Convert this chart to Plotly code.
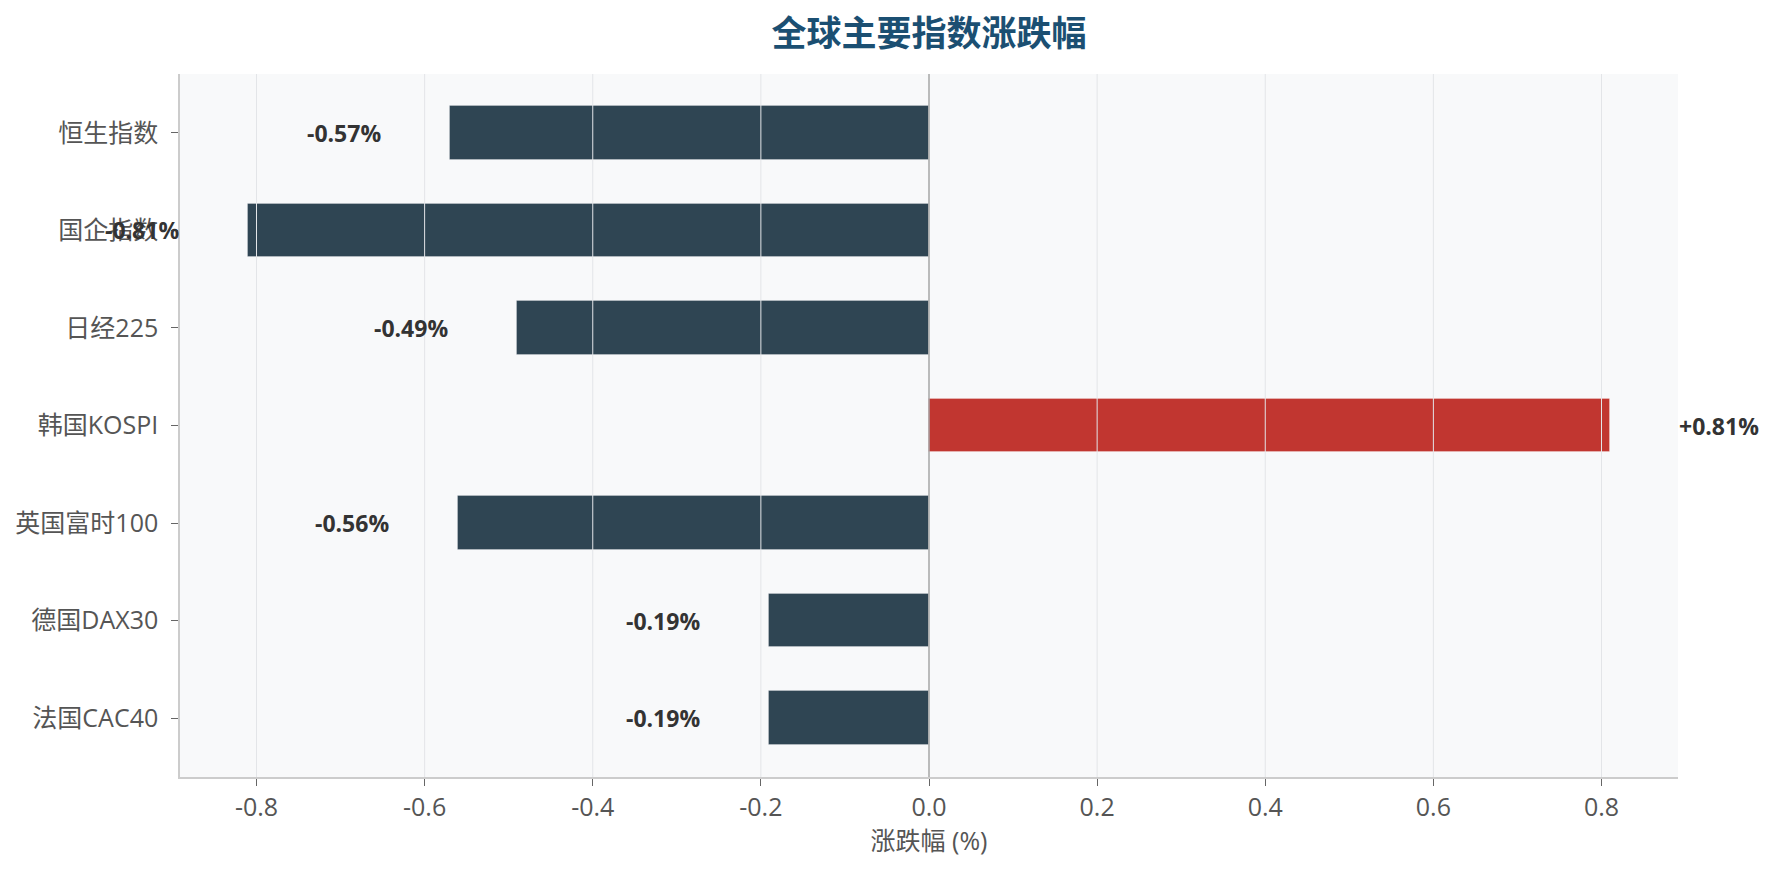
import plotly.graph_objects as go

categories = ["恒生指数", "国企指数", "日经225", "韩国KOSPI", "英国富时100", "德国DAX30", "法国CAC40"]
values = [-0.57, -0.81, -0.49, 0.81, -0.56, -0.19, -0.19]
tick_vals = [-0.8, -0.6, -0.4, -0.2, 0.0, 0.2, 0.4, 0.6, 0.8]
tick_text = ["-0.8", "-0.6", "-0.4", "-0.2", "0.0", "0.2", "0.4", "0.6", "0.8"]

FONT = "Segoe UI, Open Sans, Noto Sans CJK SC, Microsoft YaHei, sans-serif"
DARK = "#2F4553"
RED = "#C13630"

colors = [RED if v > 0 else DARK for v in values]

fig = go.Figure()
fig.add_trace(go.Bar(
    x=values, y=categories, orientation="h", width=0.55,
    marker=dict(color=colors, line=dict(color="rgba(255,255,255,0.25)", width=1)),
    hoverinfo="x+y", showlegend=False,
))

# gridlines drawn above bars (as in reference)
for t in tick_vals:
    if t == 0:
        continue
    fig.add_shape(type="line", xref="x", yref="paper", x0=t, x1=t, y0=0, y1=1,
                  line=dict(color="#E3E5E8", width=1), layer="above")
fig.add_shape(type="line", xref="x", yref="paper", x0=0, x1=0, y0=0, y1=1,
              line=dict(color="#A6A6A6", width=1.5), layer="above")

for c, v in zip(categories, values):
    if v > 0:
        fig.add_annotation(x=v + 0.08, y=c, text=f"<b>+{v:.2f}%</b>", xanchor="left",
                           showarrow=False, font=dict(size=23, color="#333333", family=FONT))
    else:
        fig.add_annotation(x=v - 0.08, y=c, text=f"<b>{v:.2f}%</b>", xanchor="right",
                           showarrow=False, font=dict(size=23, color="#333333", family=FONT))

W, H = 1765, 858
n = len(categories)
pad = 0.275 + 0.05 * (n - 1 + 0.55)
fig.update_layout(
    width=W, height=H,
    margin=dict(l=172, r=95, t=66, b=89),
    paper_bgcolor="white", plot_bgcolor="#F8F9FA",
    font=dict(family=FONT, color="#555555"),
    title=dict(text="<b>全球主要指数涨跌幅</b>", x=921 / W, xanchor="center",
               y=1 - 26 / H, yanchor="middle",
               font=dict(size=35, color="#1B4F72", family=FONT)),
    xaxis=dict(range=[-0.891, 0.891], tickvals=tick_vals, ticktext=tick_text,
               automargin=False,
               showgrid=False, zeroline=False, showline=True, linecolor="#CCCCCC", linewidth=1.5,
               ticks="outside", ticklen=7, tickcolor="#666666", tickwidth=1,
               tickfont=dict(size=25, color="#555555"),
               title=dict(text="涨跌幅 (%)", font=dict(size=25, color="#555555"), standoff=6)),
    yaxis=dict(type="category", categoryorder="array", categoryarray=categories,
               automargin=False,
               range=[n - 1 + pad, -pad], showgrid=False, zeroline=False,
               showline=True, linecolor="#CCCCCC", linewidth=1.5,
               ticks="outside", ticklen=7, tickcolor="#666666", tickwidth=1,
               ticklabelstandoff=8,
               tickfont=dict(size=25, color="#555555")),
    bargap=0,
)

fig.write_html("out.html")
